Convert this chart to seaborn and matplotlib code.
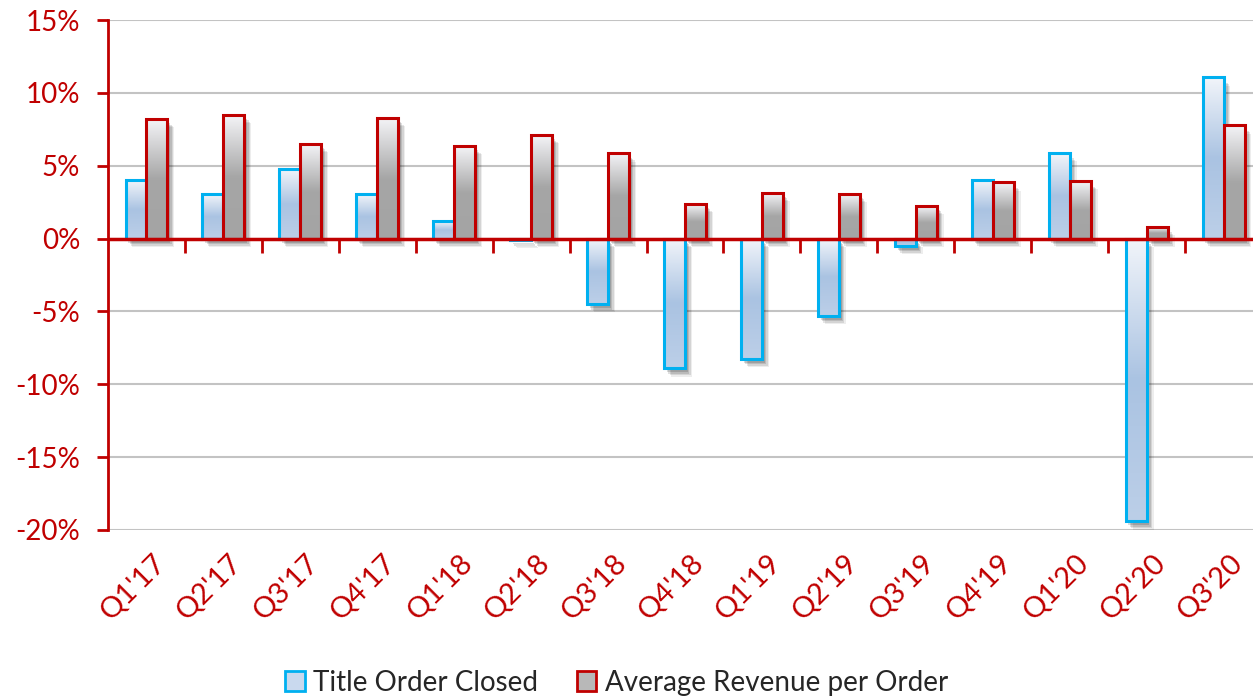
import numpy as np
import pandas as pd
import seaborn as sns
import matplotlib.pyplot as plt
from matplotlib import transforms
from matplotlib.colors import LinearSegmentedColormap
from matplotlib.patches import Rectangle, Patch

quarters = ["Q1'17", "Q2'17", "Q3'17", "Q4'17", "Q1'18", "Q2'18", "Q3'18", "Q4'18",
            "Q1'19", "Q2'19", "Q3'19", "Q4'19", "Q1'20", "Q2'20", "Q3'20"]
title_orders = [4.0, 3.05, 4.8, 3.05, 1.2, -0.1, -4.5, -8.9,
                -8.25, -5.3, -0.5, 4.0, 5.9, -19.4, 11.07]
avg_revenue = [8.2, 8.5, 6.5, 8.3, 6.35, 7.1, 5.85, 2.4,
               3.15, 3.07, 2.25, 3.85, 3.95, 0.8, 7.77]
series = ['Title Order Closed', 'Average Revenue per Order']
ytick_vals = [15, 10, 5, 0, -5, -10, -15, -20]

df = pd.DataFrame({'quarter': quarters * 2,
                   'value': title_orders + avg_revenue,
                   'series': [series[0]] * len(quarters) + [series[1]] * len(quarters)})

red = '#c00000'
blue = '#00b0f0'

sns.set_style('white')
plt.rcParams['font.family'] = ['Lato', 'DejaVu Sans']

fig = plt.figure(figsize=(12.53, 6.98), dpi=100)
ax = fig.add_axes([0.0862, 0.2407, 0.921, 0.7306])

sns.barplot(data=df, x='quarter', y='value', hue='series', hue_order=series,
            palette=[blue, red], width=0.545, saturation=1, legend=False,
            zorder=3, ax=ax)

# gradient fills + soft shadow, like the office chart
cmaps = [LinearSegmentedColormap.from_list('b', ['#f2f5fa', '#aac3e2', '#bccfe8']),
         LinearSegmentedColormap.from_list('r', ['#f4f4f7', '#a6a6a6', '#a4a4a4'])]
grad = np.linspace(0, 1, 256).reshape(-1, 1)
for cont, edge, cmap in zip(ax.containers, [blue, red], cmaps):
    for bar in cont:
        x0 = bar.get_x()
        w = bar.get_width()
        y0 = bar.get_y()
        h = bar.get_height()
        lo, hi = min(y0, y0 + h), max(y0, y0 + h)
        bar.set_facecolor('none')
        bar.set_edgecolor(edge)
        bar.set_linewidth(2.2)
        for dx, dy, a in [(2, -3, 0.14), (3, -4, 0.12), (4, -5, 0.10), (5, -6, 0.07)]:
            tf = ax.transData + transforms.ScaledTranslation(dx / 72, dy / 72, fig.dpi_scale_trans)
            ax.add_patch(Rectangle((x0, lo), w, hi - lo, transform=tf, facecolor='black',
                                   edgecolor='none', alpha=a, zorder=2.4))
        im = ax.imshow(grad, extent=[x0, x0 + w, lo, hi], origin='upper', aspect='auto',
                       cmap=cmap, zorder=2.8)
        im.set_clip_path(bar)

ax.set_xlim(-0.5, len(quarters) - 0.5)
ax.set_ylim(ytick_vals[-1], ytick_vals[0])

ax.axhline(0, color=red, lw=2.5, zorder=4)
ax.plot(np.arange(len(quarters) - 1) + 0.5, np.zeros(len(quarters) - 1), ls='none',
        marker=3, markersize=10, mew=2, color=red, zorder=4, clip_on=False)

ax.set_yticks(ytick_vals)
ax.set_yticklabels([f'{v}%' for v in ytick_vals])
ax.set_xticks(range(len(quarters)))
ax.set_xticklabels(quarters, rotation=45, ha='right', rotation_mode='anchor')
ax.tick_params(axis='y', colors=red, labelsize=20, length=8, width=2, pad=12, left=True)
ax.tick_params(axis='x', colors=red, labelsize=21, length=0, pad=14)
for lbl in ax.get_xticklabels():
    lbl.set_transform(lbl.get_transform() + transforms.ScaledTranslation(4 / 72, 0, fig.dpi_scale_trans))
ax.set_xlabel('')
ax.set_ylabel('')

ax.yaxis.grid(True, color='#c3c3c3', lw=1.5)
ax.set_axisbelow(True)
for s in ['top', 'right', 'bottom']:
    ax.spines[s].set_visible(False)
ax.spines['left'].set_color(red)
ax.spines['left'].set_linewidth(2)

handles = [Patch(facecolor='#c9d9ee', edgecolor=blue, lw=2),
           Patch(facecolor='#b8b8b8', edgecolor=red, lw=2)]
fig.legend(handles, series, loc='center', bbox_to_anchor=(0.492, 0.022), ncol=2,
           frameon=False, fontsize=20, handlelength=0.7, handleheight=0.7,
           handletextpad=0.3, columnspacing=1.4)

fig.savefig('out.png', dpi=100)
